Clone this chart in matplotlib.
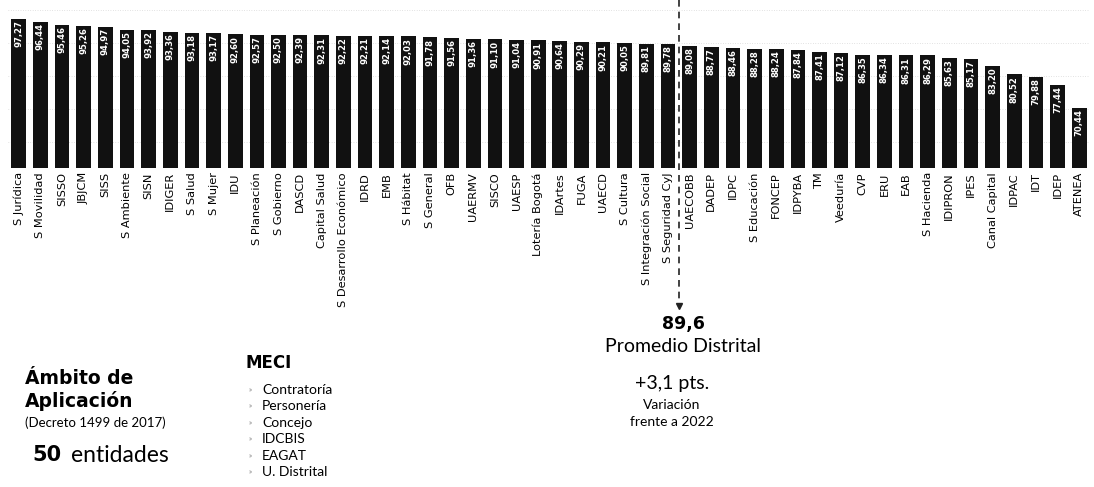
import matplotlib.pyplot as plt

plt.rcParams['font.family'] = ['Lato', 'DejaVu Sans']

entidades = ['S Jurídica', 'S Movilidad', 'SISSO', 'JBJCM', 'SISS', 'S Ambiente', 'SISN',
             'IDIGER', 'S Salud', 'S Mujer', 'IDU', 'S Planeación', 'S Gobierno', 'DASCD',
             'Capital Salud', 'S Desarrollo Económico', 'IDRD', 'EMB', 'S Hábitat',
             'S General', 'OFB', 'UAERMV', 'SISCO', 'UAESP', 'Lotería Bogotá', 'IDArtes',
             'FUGA', 'UAECD', 'S Cultura', 'S Integración Social', 'S Seguridad CyJ',
             'UAECOBB', 'DADEP', 'IDPC', 'S Educación', 'FONCEP', 'IDPYBA', 'TM',
             'Veeduría', 'CVP', 'ERU', 'EAB', 'S Hacienda', 'IDIPRON', 'IPES',
             'Canal Capital', 'IDPAC', 'IDT', 'IDEP', 'ATENEA']
puntajes = [97.27, 96.44, 95.46, 95.26, 94.97, 94.05, 93.92, 93.36, 93.18, 93.17,
            92.60, 92.57, 92.50, 92.39, 92.31, 92.22, 92.21, 92.14, 92.03, 91.78,
            91.56, 91.36, 91.10, 91.04, 90.91, 90.64, 90.29, 90.21, 90.05, 89.81,
            89.78, 89.08, 88.77, 88.46, 88.28, 88.24, 87.84, 87.41, 87.12, 86.35,
            86.34, 86.31, 86.29, 85.63, 85.17, 83.20, 80.52, 79.88, 77.44, 70.44]
promedio = '89,6'
variacion = '+3,1 pts.'
meci = ['Contratoría', 'Personería', 'Concejo', 'IDCBIS', 'EAGAT', 'U. Distrital']

fig = plt.figure(figsize=(10.94, 4.87), dpi=100)
ax = fig.add_axes([8 / 1094, 1 - 168 / 487, 1082 / 1094, 168 / 487])

x = list(range(len(entidades)))
ax.bar(x, puntajes, width=0.68, color='#111111', zorder=2)
ax.set_ylim(52.3, 103.0)
ax.set_xlim(-0.5, len(entidades) - 0.5)

# lineas de fondo punteadas (muy tenues)
for g in [100, 90, 80, 70, 60]:
    ax.axhline(g, color='#c8c8c8', linestyle=(0, (1, 2.5)), linewidth=0.5, zorder=0)

for i, v in enumerate(puntajes):
    ax.text(i, v - 0.4, f'{v:.2f}'.replace('.', ','), rotation=90, ha='center', va='top',
            color='white', fontsize=6.1, fontweight='bold', family='DejaVu Sans', zorder=3)

ax.set_xticks(x)
ax.set_xticklabels(entidades, rotation=90, fontsize=8.2, family='DejaVu Sans')
ax.tick_params(axis='x', length=0, pad=3)
ax.set_yticks([])
for s in ax.spines.values():
    s.set_visible(False)

# linea del promedio con flecha
ax.plot([30.5, 30.5], [103.0, 11.5], color='#222222', linestyle=(0, (4, 3)),
        linewidth=1.2, clip_on=False, zorder=4)
ax.plot([30.5], [10.6], marker='v', markersize=4, color='#222222', clip_on=False, zorder=4)

def fy(py):
    return 1 - py / 487

fig.text(683 / 1094, fy(324), promedio, ha='center', va='center', fontsize=12.5, fontweight='bold', family='DejaVu Sans')
fig.text(683 / 1094, fy(347), 'Promedio Distrital', ha='center', va='center', fontsize=14)
fig.text(672 / 1094, fy(383), variacion, ha='center', va='center', fontsize=14)
fig.text(672 / 1094, fy(405), 'Variación', ha='center', va='center', fontsize=10)
fig.text(672 / 1094, fy(422), 'frente a 2022', ha='center', va='center', fontsize=10)

fig.text(25 / 1094, fy(378), 'Ámbito de', ha='left', va='center', fontsize=13.5, fontweight='bold', family='DejaVu Sans')
fig.text(25 / 1094, fy(401), 'Aplicación', ha='left', va='center', fontsize=13.5, fontweight='bold', family='DejaVu Sans')
fig.text(25 / 1094, fy(423), '(Decreto 1499 de 2017)', ha='left', va='center', fontsize=9.5)
fig.text(32 / 1094, fy(455), '50', ha='left', va='center', fontsize=15, fontweight='bold', family='DejaVu Sans')
fig.text(71 / 1094, fy(456), 'entidades', ha='left', va='center', fontsize=16.5)

fig.text(246 / 1094, fy(363), 'MECI', ha='left', va='center', fontsize=12, fontweight='bold', family='DejaVu Sans')
for k, nombre in enumerate(meci):
    yy = fy(390 + 16.4 * k)
    fig.text(249 / 1094, yy, '»', ha='left', va='center', fontsize=5, color='#777777')
    fig.text(262 / 1094, yy, nombre, ha='left', va='center', fontsize=10)

fig.savefig('out.png', dpi=100)
